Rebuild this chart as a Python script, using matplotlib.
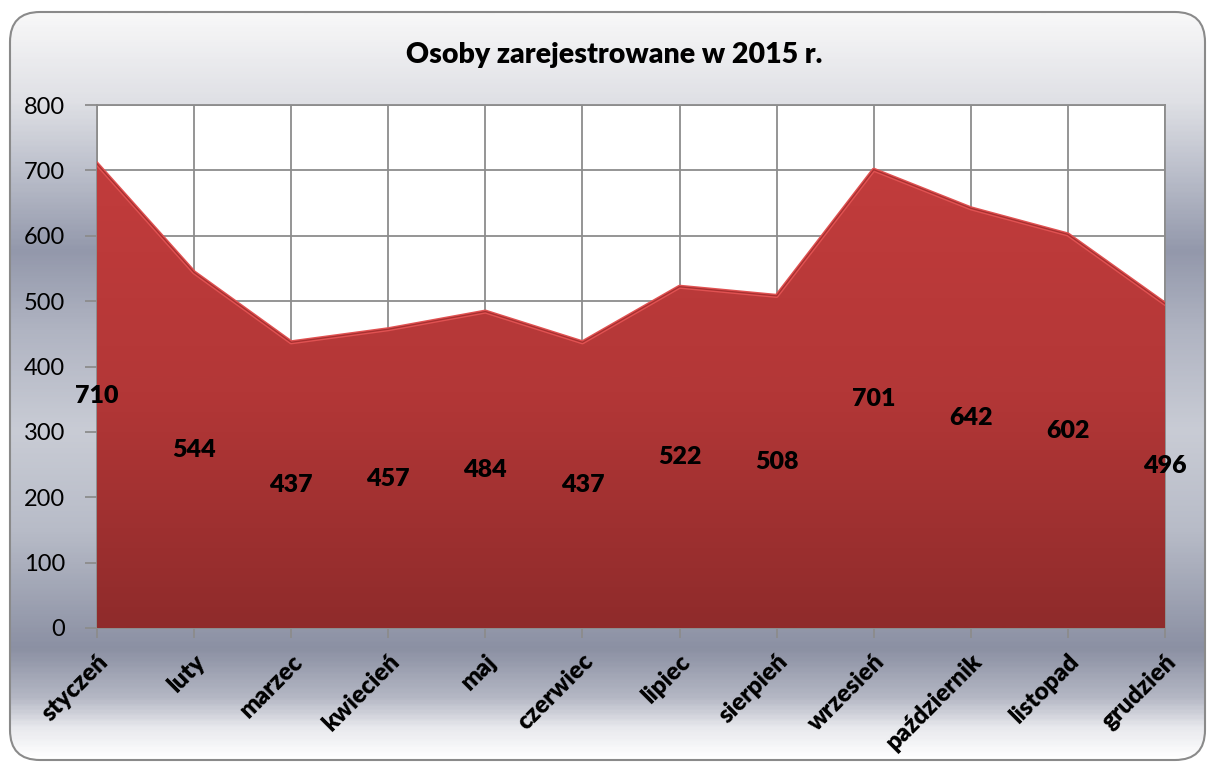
import numpy as np
import matplotlib
matplotlib.use("Agg")
import matplotlib.pyplot as plt
from matplotlib.patches import FancyBboxPatch, PathPatch
from matplotlib.colors import LinearSegmentedColormap

plt.rcParams['font.family'] = ['Lato', 'DejaVu Sans']

# dane
miesiace = ["styczeń", "luty", "marzec", "kwiecień", "maj", "czerwiec",
            "lipiec", "sierpień", "wrzesień", "październik", "listopad", "grudzień"]
osoby = [710, 544, 437, 457, 484, 437, 522, 508, 701, 642, 602, 496]
tytul = "Osoby zarejestrowane w 2015 r."

W, H = 1208, 767
fig = plt.figure(figsize=(W / 100, H / 100), dpi=100)
fig.patch.set_facecolor("white")

# tlo - zaokraglony prostokat z gradientem
bg = fig.add_axes([0, 0, 1, 1])
bg.set_xlim(0, W)
bg.set_ylim(H, 0)
bg.axis("off")
stops = [(12, "#f8f8f8"), (40, "#f0f0f2"), (100, "#dfe0e5"), (180, "#b6bac7"),
         (250, "#9398ab"), (330, "#b0b4c2"), (430, "#c9ccd5"), (530, "#b8bcc8"),
         (650, "#8b90a3"), (700, "#b5b8c5"), (730, "#e8e9ed"), (760, "#ffffff")]
y0, y1 = stops[0][0], stops[-1][0]
cmap_bg = LinearSegmentedColormap.from_list(
    "bg", [((y - y0) / (y1 - y0), c) for y, c in stops])
grad = np.linspace(0, 1, 400).reshape(-1, 1)
im = bg.imshow(grad, cmap=cmap_bg, aspect="auto", extent=[10, 1205, y1, y0])
box = FancyBboxPatch((10, 12), 1195, 748, boxstyle="round,pad=0,rounding_size=30",
                     facecolor="none", edgecolor="#8a8a8a", lw=1.5)
bg.add_patch(box)
im.set_clip_path(box)

# wykres
ax = fig.add_axes([97 / W, (H - 628) / H, (1165 - 97) / W, (628 - 105) / H])
ax.set_facecolor("white")
x = np.arange(len(miesiace))
ax.set_xlim(0, len(miesiace) - 1)
ax.set_ylim(0, 800)
ax.set_yticks(range(0, 801, 100))
ax.set_xticks(x)
ax.grid(True, color="#8c8c8c", lw=1.3)
ax.set_axisbelow(True)
for s in ax.spines.values():
    s.set_color("#8c8c8c")
    s.set_linewidth(1.3)
ax.tick_params(axis="both", colors="#8c8c8c", length=7, width=1.3, labelcolor="black")
ax.tick_params(axis="y", labelsize=17, pad=14, length=9)

area = ax.fill_between(x, osoby, 0, facecolor="none", edgecolor="none", zorder=3)
cmap_area = LinearSegmentedColormap.from_list("area", ["#8f2b2b", "#b33737", "#c23c3c"])
gimg = ax.imshow(np.linspace(0, 1, 300).reshape(-1, 1), cmap=cmap_area, aspect="auto",
                 origin="lower", extent=[0, len(miesiace) - 1, 0, 720], zorder=3)
clip = PathPatch(area.get_paths()[0], transform=ax.transData, facecolor="none", edgecolor="none")
ax.add_patch(clip)
gimg.set_clip_path(clip)
ax.set_xlim(0, len(miesiace) - 1)
ax.set_ylim(0, 800)
ax.plot(x, osoby, color="#e05252", lw=3, zorder=4, solid_joinstyle="round")
ax.plot(x, osoby, color="#a83030", lw=1, zorder=4)

for xi, v in zip(x, osoby):
    ax.text(xi, v / 2, str(v), ha="center", va="center", fontsize=18,
            fontweight=800, color="black", zorder=5, clip_on=False)

ax.set_xticklabels(miesiace, rotation=45, ha="right", rotation_mode="anchor",
                   fontsize=17.5, fontweight=800)
ax.tick_params(axis="x", pad=9)

fig.text(614 / W, 1 - 55 / H, tytul, ha="center", va="center", fontsize=20.5, fontweight=800)

fig.savefig("out.png", dpi=100)
